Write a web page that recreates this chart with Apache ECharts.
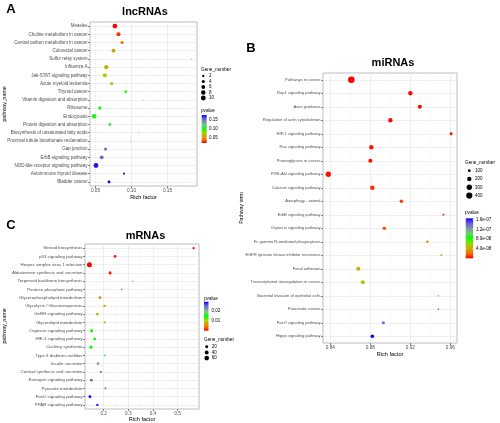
<!DOCTYPE html>
<html><head><meta charset="utf-8">
<script src="https://cdn.jsdelivr.net/npm/echarts@6/dist/echarts.min.js"></script>
<style>html,body{margin:0;padding:0;background:#fff}#c{width:500px;height:423px}</style>
</head><body><div id="c"></div>
<script>
// ---------- Panel A: lncRNAs ----------
const lncCategories = ["Measles","Choline metabolism in cancer","Central carbon metabolism in cancer","Colorectal cancer","Sulfur relay system","Influenza A","Jak-STAT signaling pathway","Acute myeloid leukemia","Thyroid cancer","Vitamin digestion and absorption","Ribosome","Endocytosis","Protein digestion and absorption","Biosynthesis of unsaturated fatty acids","Proximal tubule bicarbonate reclamation","Gap junction","ErbB signaling pathway","NOD-like receptor signaling pathway","Autoimmune thyroid disease","Bladder cancer"];
const lncRichFactor = [0.077,0.082,0.087,0.075,0.183,0.065,0.063,0.0725,0.092,0.116,0.056,0.048,0.070,0.110,0.099,0.064,0.0586,0.0507,0.0896,0.0688];
const lncGeneNumber = [10,7,4,6,1,8,7,4,3,1,4,10,3,1,1,4,6,10,2,3];
const lncPvalue = [0.0196,0.028,0.039,0.056,0.044,0.063,0.079,0.083,0.096,0.099,0.103,0.107,0.109,0.131,0.144,0.150,0.155,0.174,0.171,0.179];
const lncTicks = [0.05,0.10,0.15];
const lncMinorTicks = [0.075,0.125,0.175];
const lncSizeBreaks = [2,4,6,8,10];
const lncColorBreaks = [0.05,0.10,0.15];

// ---------- Panel B: miRNAs ----------
const miCategories = ["Pathways in cancer","Rap1 signaling pathway","Axon guidance","Regulation of actin cytoskeleton","HIF-1 signaling pathway","Ras signaling pathway","Proteoglycans in cancer","PI3K-Akt signaling pathway","Calcium signaling pathway","Autophagy - animal","ErbB signaling pathway","Oxytocin signaling pathway","Fc gamma R-mediated phagocytosis","EGFR tyrosine kinase inhibitor resistance","Focal adhesion","Transcriptional misregulation in cancer","Bacterial invasion of epithelial cells","Pancreatic cancer","FoxO signaling pathway","Hippo signaling pathway"];
const miRichFactor = [0.861,0.920,0.9295,0.900,0.9607,0.881,0.880,0.838,0.882,0.911,0.953,0.894,0.937,0.951,0.868,0.8725,0.948,0.948,0.893,0.882];
const miGeneNumber = [457,193,169,196,105,204,180,297,212,128,81,138,91,75,174,162,73,72,117,138];
const miPvalue = [1e-12,2e-10,5e-10,1e-9,2e-9,3e-9,3e-9,3e-9,8e-9,1.2e-8,1.0e-8,1.6e-8,3.4e-8,3.1e-8,4.3e-8,5.6e-8,9.2e-8,1.55e-7,1.38e-7,1.67e-7];
const miTicks = [0.84,0.88,0.92,0.96];
const miMinorTicks = [0.86,0.90,0.94];
const miSizeBreaks = [100,200,300,400];
const miColorBreaks = [4e-8,8e-8,1.2e-7,1.6e-7];

// ---------- Panel C: mRNAs ----------
const mCategories = ["Steroid biosynthesis","p53 signaling pathway","Herpes simplex virus 1 infection","Aldosterone synthesis and secretion","Terpenoid backbone biosynthesis","Pentose phosphate pathway","Glycerophospholipid metabolism","Glycolysis / Gluconeogenesis","GnRH signaling pathway","Glycerolipid metabolism","Oxytocin signaling pathway","HIF-1 signaling pathway","Cushing syndrome","Type II diabetes mellitus","Insulin secretion","Cortisol synthesis and secretion","Estrogen signaling pathway","Pyruvate metabolism","FoxO signaling pathway","PPAR signaling pathway"];
const mRichFactor = [0.565,0.246,0.142,0.226,0.318,0.273,0.185,0.203,0.174,0.204,0.151,0.163,0.148,0.204,0.177,0.188,0.150,0.207,0.144,0.174];
const mGeneNumber = [11,18,70,22,7,8,18,14,16,12,23,18,23,9,15,12,21,10,19,13];
const mPvalue = [0.0003,0.0008,0.0002,0.0012,0.0052,0.0045,0.0058,0.0073,0.0093,0.012,0.0137,0.0142,0.0145,0.0154,0.0209,0.0232,0.0238,0.0232,0.029,0.0279];
const mTicks = [0.2,0.3,0.4,0.5];
const mMinorTicks = [0.15,0.25,0.35,0.45,0.55];
const mSizeBreaks = [20,40,60];
const mColorBreaks = [0.01,0.02];

// ---------- styling / layout ----------
const FONT = '"Liberation Sans", Arial, sans-serif';
const gradient = ['#FF0000','#E87600','#C9AB00','#98D700','#00FF00','#72CC74','#7D93A6','#6C5BD3','#0000FF'];

const panels = [
  {letter:'A', letterPos:[11,9], title:'lncRNAs', titlePos:[145,12],
   cats:lncCategories, rich:lncRichFactor, genes:lncGeneNumber, p:lncPvalue,
   ticks:lncTicks, minor:lncMinorTicks, tickFmt:v=>v.toFixed(2),
   grid:{left:90, top:22, width:107, height:164}, xmin:0.0424, xmax:0.191,
   yLabelSize:4.5, yName:'pathway_name', yNamePos:[5,104], xNamePos:[143.5,197],
   size:{nmin:1,nmax:10,dmin:1,dmax:4.8}, pmin:0.0196, pmax:0.179,
   sizeBreaks:lncSizeBreaks, colorBreaks:lncColorBreaks, colorFmt:v=>v.toFixed(2),
   leg:{x:201, sizeTitleY:69.3, symX:203.3, labX:209, y0:76, dy:5.5, pTitleY:111, barX:201.7, barY:115, barW:5, barH:28, barLabX:209}},
  {letter:'B', letterPos:[251,48], title:'miRNAs', titlePos:[393,62.5],
   cats:miCategories, rich:miRichFactor, genes:miGeneNumber, p:miPvalue,
   ticks:miTicks, minor:miMinorTicks, tickFmt:v=>v.toFixed(2),
   grid:{left:323, top:73, width:134, height:270}, xmin:0.8327, xmax:0.9666,
   yLabelSize:4.1, yName:'Pathway term', yNamePos:[242,208], xNamePos:[390,354],
   size:{nmin:72,nmax:457,dmin:1.4,dmax:6.6}, pmin:0, pmax:1.67e-7,
   sizeBreaks:miSizeBreaks, colorBreaks:miColorBreaks, colorFmt:v=>v.toExponential(1).replace('e-','e-0'),
   leg:{x:465, sizeTitleY:162.3, symX:469.3, labX:475, y0:170.7, dy:8.3, pTitleY:212.3, barX:465.7, barY:218.3, barW:7.5, barH:40, barLabX:476}},
  {letter:'C', letterPos:[11,225], title:'mRNAs', titlePos:[145.5,236],
   cats:mCategories, rich:mRichFactor, genes:mGeneNumber, p:mPvalue,
   ticks:mTicks, minor:mMinorTicks, tickFmt:v=>v.toFixed(1),
   grid:{left:85, top:244, width:114, height:165}, xmin:0.124, xmax:0.587,
   yLabelSize:4.4, yName:'pathway_name', yNamePos:[5,326], xNamePos:[142,419.5],
   size:{nmin:7,nmax:70,dmin:1.2,dmax:5}, pmin:0.0002, pmax:0.029,
   sizeBreaks:mSizeBreaks, colorBreaks:mColorBreaks, colorFmt:v=>v.toFixed(2),
   leg:{x:204, sizeTitleY:340, symX:206.7, labX:211.7, y0:346.7, dy:5.7, pTitleY:298.3, barX:204, barY:301.7, barW:4.5, barH:29, barLabX:211.5}}
];

function sizeOf(n, s){
  const t = Math.max(0, (n - s.nmin) / (s.nmax - s.nmin));
  return s.dmin + (s.dmax - s.dmin) * Math.sqrt(t);
}

const grids = [], xAxes = [], yAxes = [], series = [], visualMaps = [], graphics = [];
panels.forEach((P, i) => {
  grids.push(Object.assign({show:true, borderColor:'#ababab', borderWidth:0.8, backgroundColor:'#fff'}, P.grid));
  xAxes.push({type:'value', gridIndex:i, min:P.xmin, max:P.xmax,
    axisLine:{show:false},
    axisTick:{show:true, customValues:P.ticks, length:2, lineStyle:{color:'#333', width:0.6}},
    axisLabel:{customValues:P.ticks, formatter:P.tickFmt, fontSize:4.7, color:'#4d4d4d', margin:2.5, fontFamily:FONT},
    splitLine:{show:true, lineStyle:{color:'#ebebeb', width:0.8}}});
  xAxes.push({type:'value', gridIndex:i, min:P.xmin, max:P.xmax,
    axisLine:{show:false},
    axisTick:{show:false, customValues:P.minor},
    axisLabel:{show:false, customValues:P.minor},
    splitLine:{show:true, lineStyle:{color:'#f4f4f4', width:0.5}}});
  yAxes.push({type:'category', gridIndex:i, data:P.cats, inverse:true, boundaryGap:true,
    axisLine:{show:false},
    axisTick:{show:true, alignWithLabel:true, length:2, lineStyle:{color:'#333', width:0.6}},
    axisLabel:{interval:0, fontSize:P.yLabelSize, color:'#4d4d4d', margin:2.5, fontFamily:FONT},
    splitLine:{show:true, alignWithLabel:true, interval:0, lineStyle:{color:'#ebebeb', width:0.8}}});
  const s = P.size;
  series.push({type:'scatter', xAxisIndex:2*i, yAxisIndex:i,
    data:P.cats.map((c,j)=>[P.rich[j], c, P.genes[j], P.p[j]]),
    symbol:'circle', symbolSize:v=>sizeOf(v[2], s), itemStyle:{opacity:1}, silent:true});
  visualMaps.push({type:'continuous', show:false, seriesIndex:i, dimension:3, min:P.pmin, max:P.pmax,
    inRange:{color:gradient}});

  // titles and axis names
  graphics.push({type:'text', x:P.letterPos[0], y:P.letterPos[1], style:{text:P.letter, font:'bold 13px '+FONT, fill:'#000', align:'center', verticalAlign:'middle'}});
  graphics.push({type:'text', x:P.titlePos[0], y:P.titlePos[1], style:{text:P.title, font:'bold 11px '+FONT, fill:'#000', align:'center', verticalAlign:'middle'}});
  graphics.push({type:'text', x:P.xNamePos[0], y:P.xNamePos[1], style:{text:'Rich factor', font:'5.6px '+FONT, fill:'#000', align:'center', verticalAlign:'middle'}});
  graphics.push({type:'text', x:P.yNamePos[0], y:P.yNamePos[1], rotation:Math.PI/2, style:{text:P.yName, font:'5.2px '+FONT, fill:'#000', align:'center', verticalAlign:'middle'}});

  // size legend
  const L = P.leg;
  graphics.push({type:'text', x:L.x, y:L.sizeTitleY, style:{text:'Gene_number', font:'4.7px '+FONT, fill:'#000', align:'left', verticalAlign:'middle'}});
  P.sizeBreaks.forEach((n,k)=>{
    const y = L.y0 + k*L.dy;
    graphics.push({type:'circle', shape:{cx:L.symX, cy:y, r:sizeOf(n,s)/2}, style:{fill:'#000'}});
    graphics.push({type:'text', x:L.labX, y:y, style:{text:String(n), font:'4.5px '+FONT, fill:'#000', align:'left', verticalAlign:'middle'}});
  });
  // colour legend
  graphics.push({type:'text', x:L.x, y:L.pTitleY, style:{text:'pvalue', font:'4.7px '+FONT, fill:'#000', align:'left', verticalAlign:'middle'}});
  const stops = gradient.slice().reverse().map((c,k)=>({offset:k/(gradient.length-1), color:c}));
  graphics.push({type:'rect', shape:{x:L.barX, y:L.barY, width:L.barW, height:L.barH},
    style:{fill:new echarts.graphic.LinearGradient(0,0,0,1,stops)}});
  P.colorBreaks.forEach(v=>{
    const y = L.barY + L.barH - (v - P.pmin)/(P.pmax - P.pmin)*L.barH;
    graphics.push({type:'line', shape:{x1:L.barX, y1:y, x2:L.barX+1, y2:y}, style:{stroke:'#fff', lineWidth:0.5}});
    graphics.push({type:'line', shape:{x1:L.barX+L.barW-1, y1:y, x2:L.barX+L.barW, y2:y}, style:{stroke:'#fff', lineWidth:0.5}});
    graphics.push({type:'text', x:L.barLabX, y:y, style:{text:P.colorFmt(v), font:'4.5px '+FONT, fill:'#000', align:'left', verticalAlign:'middle'}});
  });
});

const chart = echarts.init(document.getElementById('c'), null, {renderer:'canvas'});
chart.setOption({
  animation:false,
  backgroundColor:'#fff',
  grid:grids, xAxis:xAxes, yAxis:yAxes, series:series, visualMap:visualMaps,
  graphic:{elements:graphics}
});
</script></body></html>
